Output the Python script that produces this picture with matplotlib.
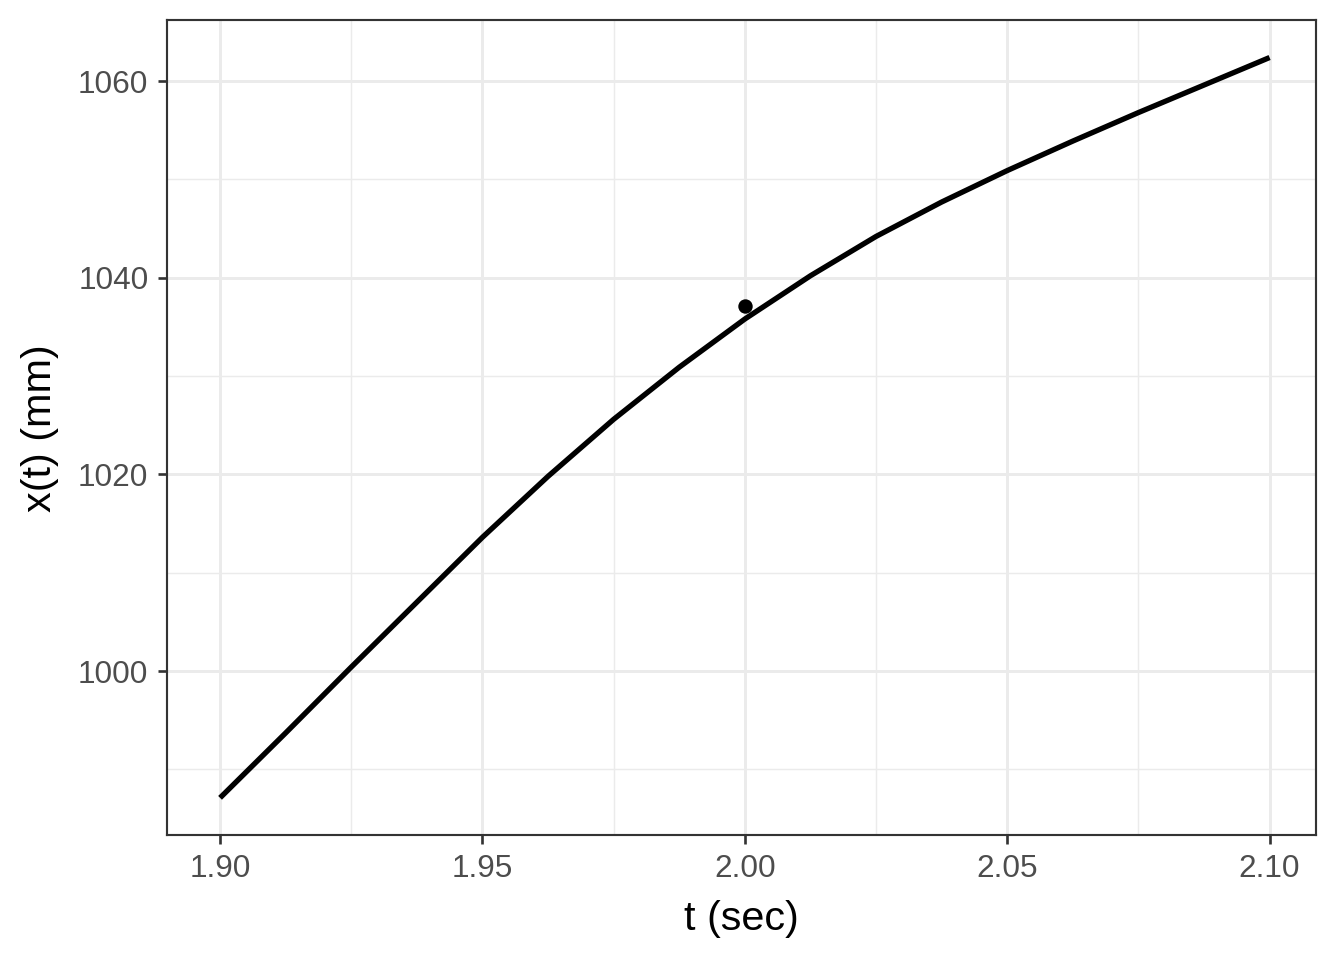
import matplotlib
matplotlib.use("Agg")
from matplotlib import pyplot as plt

# values
t = [1.9, 1.9125, 1.925, 1.9375, 1.95, 1.9625, 1.975, 1.9875, 2.0,
     2.0125, 2.025, 2.0375, 2.05, 2.0625, 2.075, 2.0875, 2.1]
x = [987.1, 993.7, 1000.4, 1007.0, 1013.6, 1019.8, 1025.6, 1030.9, 1035.8,
     1040.2, 1044.2, 1047.7, 1050.9, 1053.9, 1056.8, 1059.6, 1062.4]
pt_t = [2.0]
pt_x = [1037.1]

xticks = [1.90, 1.95, 2.00, 2.05, 2.10]
xminor = [1.925, 1.975, 2.025, 2.075]
yticks = [1000, 1020, 1040, 1060]
yminor = [990, 1010, 1030, 1050]

plt.rcParams['font.family'] = ['Liberation Sans', 'DejaVu Sans']

fig = plt.figure(figsize=(7, 5), dpi=192)
ax = fig.add_axes([0.1243, 0.130, 0.979 - 0.1243, 0.979 - 0.130])

ax.plot(t, x, color='black', lw=2.0, solid_capstyle='butt',
        solid_joinstyle='round', zorder=3)
ax.plot(pt_t, pt_x, 'o', color='black', ms=4.4, zorder=4)

ax.set_xlim(1.8899, 2.1088)
ax.set_ylim(983.3, 1066.2)
ax.set_xticks(xticks)
ax.set_xticklabels(['%.2f' % v for v in xticks])
ax.set_xticks(xminor, minor=True)
ax.set_yticks(yticks)
ax.set_yticks(yminor, minor=True)

ax.grid(which='major', color='#EBEBEB', lw=1.1, zorder=0)
ax.grid(which='minor', color='#EBEBEB', lw=0.55, zorder=0)
ax.set_axisbelow(True)
ax.tick_params(which='minor', length=0)
ax.tick_params(which='major', length=3.5, width=1.0, color='#333333',
               labelcolor='#4D4D4D', labelsize=11.8, pad=3.5)
for s in ax.spines.values():
    s.set_color('#333333')
    s.set_linewidth(0.8)

ax.set_xlabel('t (sec)', fontsize=15.5, labelpad=6)
ax.set_ylabel('x(t) (mm)', fontsize=15.5, labelpad=7)

fig.savefig('out.png', dpi=192)
